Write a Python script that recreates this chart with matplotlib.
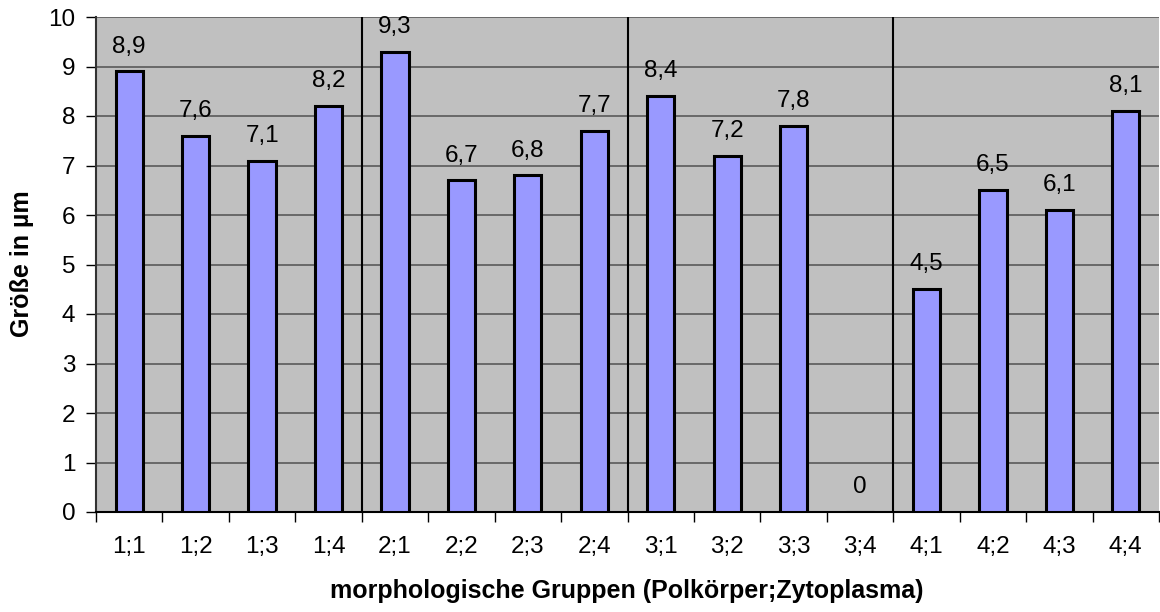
import matplotlib
matplotlib.use("Agg")
import matplotlib.pyplot as plt
import numpy as np

categories = ["1;1","1;2","1;3","1;4","2;1","2;2","2;3","2;4",
              "3;1","3;2","3;3","3;4","4;1","4;2","4;3","4;4"]
values = [8.9, 7.6, 7.1, 8.2, 9.3, 6.7, 6.8, 7.7,
          8.4, 7.2, 7.8, 0, 4.5, 6.5, 6.1, 8.1]
yticks = list(range(0, 11))
xlabel = "morphologische Gruppen (Polkörper;Zytoplasma)"
ylabel = "Größe in µm"

plt.rcParams['font.family'] = ['Liberation Sans', 'DejaVu Sans']
FS = 17.5

fig = plt.figure(figsize=(11.6, 6.12), dpi=100)
ax = fig.add_axes([96/1160, 1-512/612, (1159-96)/1160, (512-17)/612])
ax.set_facecolor("#C0C0C0")

x = np.arange(len(categories))
ax.bar(x, values, width=0.41, color="#9999FF", edgecolor="black", linewidth=2.2, zorder=3)

for xi, v in zip(x, values):
    lbl = ("%g" % v).replace(".", ",")
    ax.text(xi, v + 0.38, lbl, ha="center", va="baseline", fontsize=FS, zorder=4, clip_on=False)

ax.set_xlim(-0.5, len(categories) - 0.5)
ax.set_ylim(0, 10)
ax.set_yticks(yticks)
ax.set_yticklabels([str(t) for t in yticks], fontsize=FS)
ax.yaxis.grid(True, color="#505050", linewidth=1.1, zorder=1)
ax.set_axisbelow(True)

# group separators
for b in [3.5, 7.5, 11.5]:
    ax.axvline(b, color="black", linewidth=1.5, zorder=2)

ax.set_xticks(np.arange(-0.5, len(categories), 1.0))
ax.set_xticklabels([])
ax.set_xticks(x, minor=True)
ax.set_xticklabels(categories, minor=True, fontsize=FS)
ax.tick_params(axis="x", which="major", length=7, width=1, color="black", direction="out")
ax.tick_params(axis="x", which="minor", length=0, pad=17)
ax.tick_params(axis="y", length=7, width=1, pad=8)

for s in ["top", "right"]:
    ax.spines[s].set_visible(False)
ax.spines["left"].set_linewidth(1.5)
ax.spines["left"].set_color("#333333")
ax.spines["bottom"].set_linewidth(1.5)

fig.text(627/1160, 1-598/612, xlabel, ha="center", va="baseline", fontsize=18, fontweight="bold")
fig.text(22/1160, 1-264/612, ylabel, ha="center", va="center", rotation=90, fontsize=18, fontweight="bold")

fig.savefig("out.png", dpi=100)
